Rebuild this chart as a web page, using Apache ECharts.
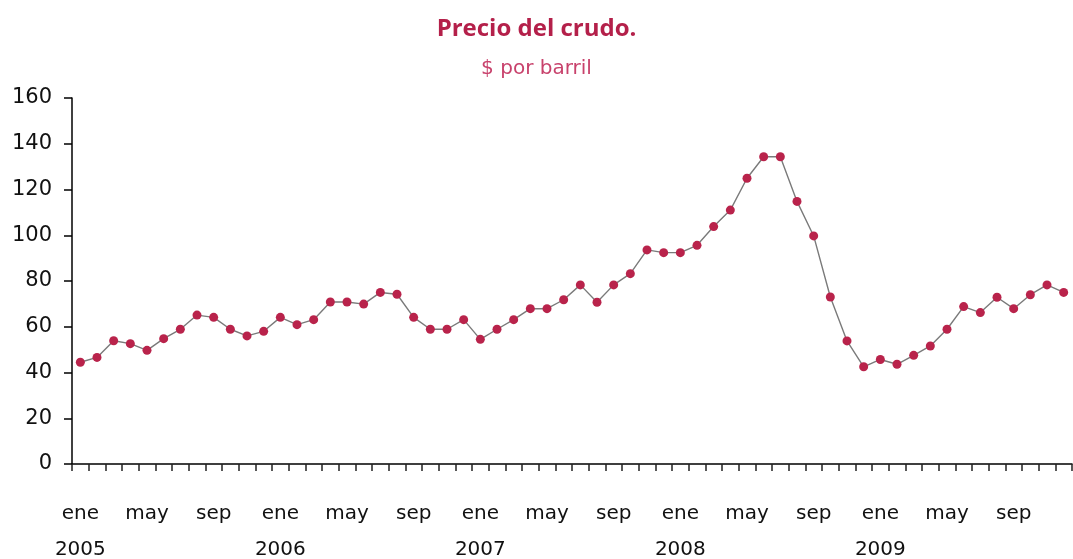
<!DOCTYPE html>
<html>
<head>
<meta charset="utf-8">
<script src="https://cdn.jsdelivr.net/npm/echarts@6/dist/echarts.min.js"></script>
<style>
  html, body { margin: 0; padding: 0; background: #fff; }
  #chart { width: 1073px; height: 559px; }
</style>
</head>
<body>
<div id="chart"></div>
<script>
// meses mostrados en el eje (ene, may, sep) y años
const monthNames = ['ene', 'feb', 'mar', 'abr', 'may', 'jun', 'jul', 'ago', 'sep', 'oct', 'nov', 'dic'];
const years = ['2005', '2006', '2007', '2008', '2009'];

// precio del crudo, $ por barril, ene 2005 - dic 2009
const price2005 = [44.5, 46.6, 53.9, 52.6, 49.7, 54.8, 58.9, 65.1, 64.1, 58.9, 56.0, 58.0];
const price2006 = [64.1, 60.9, 63.1, 70.8, 70.8, 69.9, 75.0, 74.2, 64.1, 58.9, 58.9, 63.1];
const price2007 = [54.5, 58.9, 63.1, 67.9, 67.9, 71.8, 78.3, 70.7, 78.3, 83.2, 93.6, 92.4];
const price2008 = [92.4, 95.6, 103.8, 111.0, 124.9, 134.3, 134.3, 114.8, 99.7, 73.0, 53.8, 42.5];
const price2009 = [45.7, 43.6, 47.5, 51.6, 58.9, 68.8, 66.2, 72.9, 67.9, 74.0, 78.3, 75.0];

const yTicks = { min: 0, max: 160, interval: 20 };

const categories = [];
years.forEach(function (y) {
  monthNames.forEach(function (m) { categories.push(m + ' ' + y); });
});
const values = [].concat(price2005, price2006, price2007, price2008, price2009);

const chart = echarts.init(document.getElementById('chart'));

const option = {
  animation: false,
  backgroundColor: '#ffffff',
  title: [{
    text: 'Precio del crudo.',
    left: 'center',
    top: 12,
    textStyle: {
      fontFamily: 'Open Sans',
      fontWeight: 'bold',
      fontSize: 24,
      color: '#b4204a'
    }
  }, {
    text: '$ por barril',
    left: 'center',
    top: 54,
    textStyle: {
      fontFamily: 'DejaVu Sans',
      fontWeight: 'normal',
      fontSize: 20,
      color: '#c8426c'
    }
  }],
  grid: {
    left: 72,
    right: 1,
    top: 98,
    bottom: 95,
    outerBoundsMode: 'none',
    containLabel: false
  },
  xAxis: {
    type: 'category',
    data: categories,
    boundaryGap: true,
    axisLine: { lineStyle: { color: '#000', width: 1.5 } },
    axisTick: {
      show: true,
      interval: 0,
      length: 7,
      lineStyle: { color: '#222', width: 1.5 }
    },
    axisLabel: {
      interval: 3,
      margin: 32,
      fontFamily: 'DejaVu Sans',
      fontSize: 20,
      color: '#111',
      lineHeight: 36,
      formatter: function (v) {
        const parts = v.split(' ');
        return parts[0] === 'ene' ? parts[0] + '\n' + parts[1] : parts[0];
      }
    },
    splitLine: { show: false }
  },
  yAxis: {
    type: 'value',
    min: yTicks.min,
    max: yTicks.max,
    interval: yTicks.interval,
    axisLine: { show: true, lineStyle: { color: '#000', width: 1.5 } },
    axisTick: { show: true, length: 8, lineStyle: { color: '#000', width: 1.5 } },
    axisLabel: {
      margin: 20,
      fontFamily: 'DejaVu Sans',
      fontSize: 21,
      color: '#111'
    },
    splitLine: { show: false }
  },
  series: [{
    type: 'line',
    data: values,
    symbol: 'circle',
    symbolSize: 9,
    lineStyle: { color: '#7a7a7a', width: 1.4 },
    itemStyle: { color: '#b9234b' }
  }]
};

chart.setOption(option);
</script>
</body>
</html>
